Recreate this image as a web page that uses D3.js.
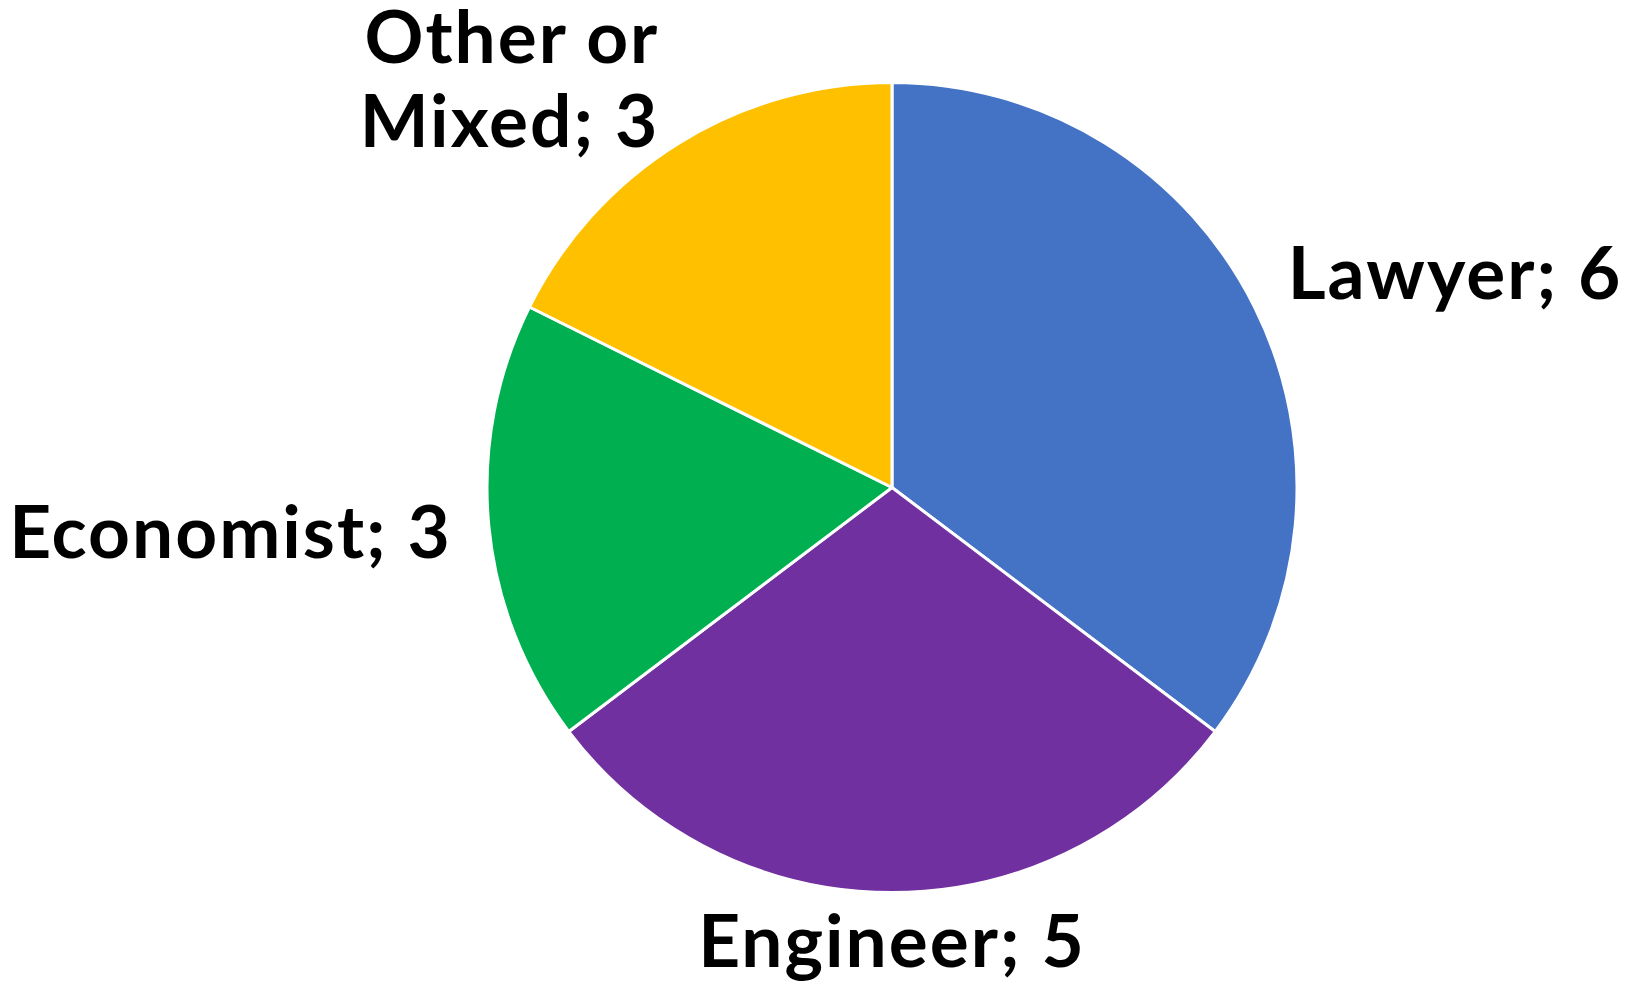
<!DOCTYPE html>
<html>
<head>
<meta charset="utf-8">
<script src="https://cdn.jsdelivr.net/npm/d3@7"></script>
<style>
  html, body { margin: 0; padding: 0; background: #ffffff; }
  svg { display: block; }
  .label { font-family: Lato, "Open Sans", sans-serif; font-weight: 700; fill: #000; letter-spacing: 2px; }
</style>
</head>
<body>
<svg id="chart" width="1626" height="983"></svg>
<script>
// Professional background of members
const categories = ["Lawyer", "Engineer", "Economist", "Other or Mixed"];
const counts = [6, 5, 3, 3];
const sliceColors = ["#4472C4", "#7030A0", "#00B050", "#FFC000"];

const width = 1626, height = 983;
const cx = 892, cy = 487.5, radius = 405;
const fontSize = 73, lineHeight = 84, labelPad = 37, wrapWidth = 470;

const svg = d3.select("#chart");
const g = svg.append("g").attr("transform", `translate(${cx},${cy})`);

const data = categories.map((c, i) => ({ name: c, value: counts[i], color: sliceColors[i] }));
const pie = d3.pie().sort(null).value(d => d.value);
const arc = d3.arc().innerRadius(0).outerRadius(radius);
const arcs = pie(data);

g.selectAll("path.slice")
  .data(arcs)
  .join("path")
  .attr("class", "slice")
  .attr("d", arc)
  .attr("fill", d => d.data.color)
  .attr("stroke", "#ffffff")
  .attr("stroke-width", 3)
  .attr("stroke-linejoin", "round");

// Data labels placed just outside each slice along its mid-angle
const capRatio = 0.72;
arcs.forEach(d => {
  const a = (d.startAngle + d.endAngle) / 2;
  const s = Math.sin(a), c = Math.cos(a);
  const r = radius + labelPad;
  const px = r * s, py = -r * c;
  const anchor = s > 0.1 ? "start" : (s < -0.1 ? "end" : "middle");

  const text = g.append("text")
    .attr("class", "label")
    .attr("font-size", fontSize)
    .attr("text-anchor", anchor);

  // wrap the label into lines no wider than wrapWidth
  const words = `${d.data.name}; ${d.data.value}`.split(" ");
  const lines = [];
  let cur = [];
  const probe = text.append("tspan");
  words.forEach(w => {
    const trial = cur.concat([w]).join(" ");
    probe.text(trial);
    if (cur.length && probe.node().getComputedTextLength() > wrapWidth) {
      lines.push(cur.join(" "));
      cur = [w];
    } else {
      cur.push(w);
    }
  });
  lines.push(cur.join(" "));
  probe.remove();

  const capH = fontSize * capRatio;
  const blockH = capH + (lines.length - 1) * lineHeight;
  let top;
  if (anchor === "middle") {
    top = py - 15;
  } else {
    top = py - 39 * c - blockH / 2;
  }
  lines.forEach((ln, i) => {
    text.append("tspan")
      .attr("x", px)
      .attr("y", top + capH + i * lineHeight)
      .text(ln);
  });
});
</script>
</body>
</html>
